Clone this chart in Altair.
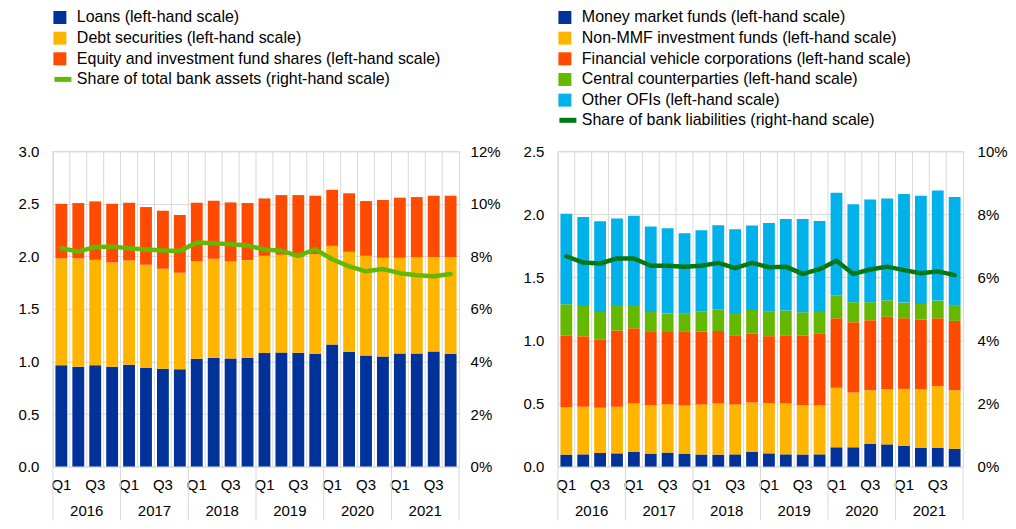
import altair as alt
import pandas as pd

# ---------------- data ----------------
years = ["2016", "2017", "2018", "2019", "2020", "2021"]
qnames = ["Q1", "Q2", "Q3", "Q4"]
quarters = [y + q for y in years for q in qnames]

# Left panel: bank assets vis-a-vis OFIs (EUR trillions)
left_series = ["Loans (left-hand scale)",
               "Debt securities (left-hand scale)",
               "Equity and investment fund shares (left-hand scale)"]
loans = [0.963, 0.950, 0.963, 0.950, 0.969, 0.938, 0.931, 0.925, 1.026, 1.036, 1.029, 1.036,
         1.080, 1.086, 1.083, 1.070, 1.162, 1.093, 1.058, 1.048, 1.077, 1.077, 1.096, 1.074]
debt = [1.017, 1.030, 1.004, 0.992, 0.992, 0.982, 0.951, 0.919, 0.929, 0.941, 0.926, 0.928,
        0.925, 0.929, 0.913, 0.950, 0.938, 0.950, 0.947, 0.938, 0.909, 0.913, 0.896, 0.918]
equity = [0.520, 0.527, 0.556, 0.558, 0.549, 0.549, 0.552, 0.549, 0.555, 0.552, 0.558, 0.543,
          0.546, 0.568, 0.587, 0.557, 0.533, 0.557, 0.521, 0.550, 0.572, 0.574, 0.585, 0.585]
left_line_name = "Share of total bank assets (right-hand scale)"
left_line = [8.31, 8.18, 8.36, 8.37, 8.31, 8.26, 8.22, 8.20, 8.53, 8.50, 8.46, 8.41,
             8.26, 8.21, 8.02, 8.27, 7.89, 7.62, 7.43, 7.52, 7.36, 7.28, 7.24, 7.33]

# Right panel: bank liabilities vis-a-vis OFIs (EUR trillions)
right_series = ["Money market funds (left-hand scale)",
                "Non-MMF investment funds (left-hand scale)",
                "Financial vehicle corporations (left-hand scale)",
                "Central counterparties (left-hand scale)",
                "Other OFIs (left-hand scale)"]
mmf = [0.095, 0.097, 0.108, 0.105, 0.116, 0.103, 0.111, 0.100, 0.095, 0.095, 0.097, 0.116,
       0.105, 0.097, 0.095, 0.097, 0.153, 0.153, 0.182, 0.176, 0.166, 0.150, 0.150, 0.142]
non_mmf = [0.376, 0.377, 0.358, 0.369, 0.387, 0.384, 0.384, 0.384, 0.397, 0.408, 0.395, 0.392,
           0.398, 0.406, 0.392, 0.390, 0.473, 0.434, 0.423, 0.440, 0.450, 0.466, 0.489, 0.463]
fvc = [0.566, 0.560, 0.544, 0.605, 0.594, 0.581, 0.571, 0.584, 0.576, 0.571, 0.550, 0.545,
       0.531, 0.539, 0.550, 0.571, 0.550, 0.558, 0.556, 0.573, 0.560, 0.550, 0.537, 0.550]
ccp = [0.250, 0.240, 0.216, 0.203, 0.185, 0.158, 0.147, 0.148, 0.164, 0.173, 0.176, 0.189,
       0.198, 0.195, 0.187, 0.176, 0.182, 0.158, 0.142, 0.129, 0.124, 0.123, 0.140, 0.121]
other = [0.718, 0.705, 0.719, 0.684, 0.707, 0.677, 0.676, 0.634, 0.642, 0.666, 0.664, 0.669,
         0.700, 0.726, 0.739, 0.713, 0.813, 0.776, 0.815, 0.808, 0.861, 0.858, 0.873, 0.861]
right_line_name = "Share of bank liabilities (right-hand scale)"
right_line = [6.67, 6.47, 6.44, 6.60, 6.60, 6.37, 6.37, 6.34, 6.37, 6.46, 6.29, 6.46,
              6.32, 6.34, 6.11, 6.26, 6.53, 6.11, 6.25, 6.34, 6.23, 6.13, 6.19, 6.07]

left_colors = ["#003299", "#FFB400", "#FF4B00"]
right_colors = ["#003299", "#FFB400", "#FF4B00", "#65B800", "#00B1EA"]
left_line_color = "#65B800"
right_line_color = "#007816"

GRID = "#d9d9d9"
FONT = "Liberation Sans"
H = 316


def panel(series, values, colors, line_name, line_vals, line_color,
          ymax, ystep, pmax, pstep, width, line_leg_y, left_ext, right_pad, right_ext):
    rows = []
    for k, (s, vals) in enumerate(zip(series, values)):
        for q, v in zip(quarters, vals):
            rows.append({"quarter": q, "series": s, "value": v, "order": k})
    df_bars = pd.DataFrame(rows)
    df_line = pd.DataFrame({"quarter": quarters, "name": line_name, "value": line_vals})
    df_q = pd.DataFrame({"quarter": quarters})
    df_sep = pd.DataFrame({"quarter": [y + "Q1" for y in years]})
    df_end = pd.DataFrame({"quarter": [quarters[-1]]})
    df_year = pd.DataFrame({"quarter": [y + "Q3" for y in years], "year": years})

    x_axis = alt.Axis(title=None, ticks=False, grid=False, domain=False, labelAngle=0,
                      labelOverlap=False, labelPadding=11, labelFontSize=15,
                      labelExpr="(substring(datum.value, 4, 6) == 'Q1' || substring(datum.value, 4, 6) == 'Q3') ? substring(datum.value, 4, 6) : ''")
    x_scale = alt.Scale(domain=quarters, paddingInner=0, paddingOuter=0)

    def X(bp=None):
        if bp is None:
            return alt.X("quarter:N", scale=x_scale, axis=x_axis, sort=quarters)
        return alt.X("quarter:N", scale=x_scale, axis=x_axis, sort=quarters, bandPosition=bp)

    grid_rules = alt.Chart(df_q).mark_rule(color=GRID, strokeWidth=1).encode(x=X(0))

    bars = alt.Chart(df_bars).mark_bar(width=alt.RelativeBandSize(0.7)).encode(
        x=X(),
        y=alt.Y("value:Q", stack="zero",
                scale=alt.Scale(domain=[0, ymax], nice=False),
                axis=alt.Axis(title=None, values=[round(i * ystep, 2) for i in range(int(round(ymax / ystep)) + 1)],
                              format=".1f", grid=True, gridColor=GRID, ticks=False, domain=False,
                              labelPadding=14, minExtent=left_ext, maxExtent=left_ext,
                              labelFontSize=15)),
        fill=alt.Fill("series:N", sort=series, title=None,
                      scale=alt.Scale(domain=series, range=colors),
                      legend=alt.Legend(orient="none", legendX=-1, legendY=-142,
                                        symbolType="square", symbolSize=169,
                                        symbolStrokeWidth=0, labelFontSize=16,
                                        labelOffset=9, rowPadding=4.7, padding=0,
                                        labelLimit=600)),
        order=alt.Order("order:Q"),
    )

    line = alt.Chart(df_line).mark_line(strokeWidth=4.5, strokeJoin="round", strokeCap="round").encode(
        x=X(),
        y=alt.Y("value:Q", scale=alt.Scale(domain=[0, pmax], nice=False),
                axis=alt.Axis(orient="right", title=None,
                              values=[i * pstep for i in range(int(pmax / pstep) + 1)],
                              labelExpr="datum.value + '%'", grid=False, ticks=False,
                              domain=False, labelPadding=right_pad, minExtent=right_ext,
                              labelFontSize=15)),
        stroke=alt.Stroke("name:N", title=None,
                          scale=alt.Scale(domain=[line_name], range=[line_color]),
                          legend=alt.Legend(orient="none", legendX=-1, legendY=line_leg_y,
                                            symbolType="stroke", symbolSize=289,
                                            symbolStrokeWidth=5, labelFontSize=16,
                                            labelOffset=3, padding=0, labelLimit=600)),
    )

    seps = alt.Chart(df_sep).mark_rule(color=GRID, strokeWidth=1).encode(
        x=X(0), y=alt.value(H), y2=alt.value(H + 54))
    end_sep = alt.Chart(df_end).mark_rule(color=GRID, strokeWidth=1).encode(
        x=X(1), y=alt.value(H), y2=alt.value(H + 54))
    year_text = alt.Chart(df_year).mark_text(fontSize=15, font=FONT, color="#000",
                                             baseline="middle").encode(
        x=X(0), y=alt.value(H + 45), text="year:N")

    return alt.layer(grid_rules, bars, line, seps, end_sep, year_text).resolve_scale(
        y="independent").properties(width=width, height=H)


left = panel(left_series, [loans, debt, equity], left_colors, left_line_name, left_line,
             left_line_color, 3.0, 0.5, 12, 2, 407, -83, 44, 11, 41)
right = panel(right_series, [mmf, non_mmf, fvc, ccp, other], right_colors, right_line_name,
              right_line, right_line_color, 2.5, 0.5, 10, 2, 406, -42, 40, 14, 42)

chart = alt.hconcat(left, right, spacing=16).resolve_scale(
    fill="independent", stroke="independent"
).properties(padding=0).configure(font=FONT).configure_view(stroke=GRID).configure_axis(
    labelColor="#000", labelFont=FONT
).configure_legend(labelColor="#000", labelFont=FONT)

chart.save("out.html", embed_options={"renderer": "svg", "actions": False})
